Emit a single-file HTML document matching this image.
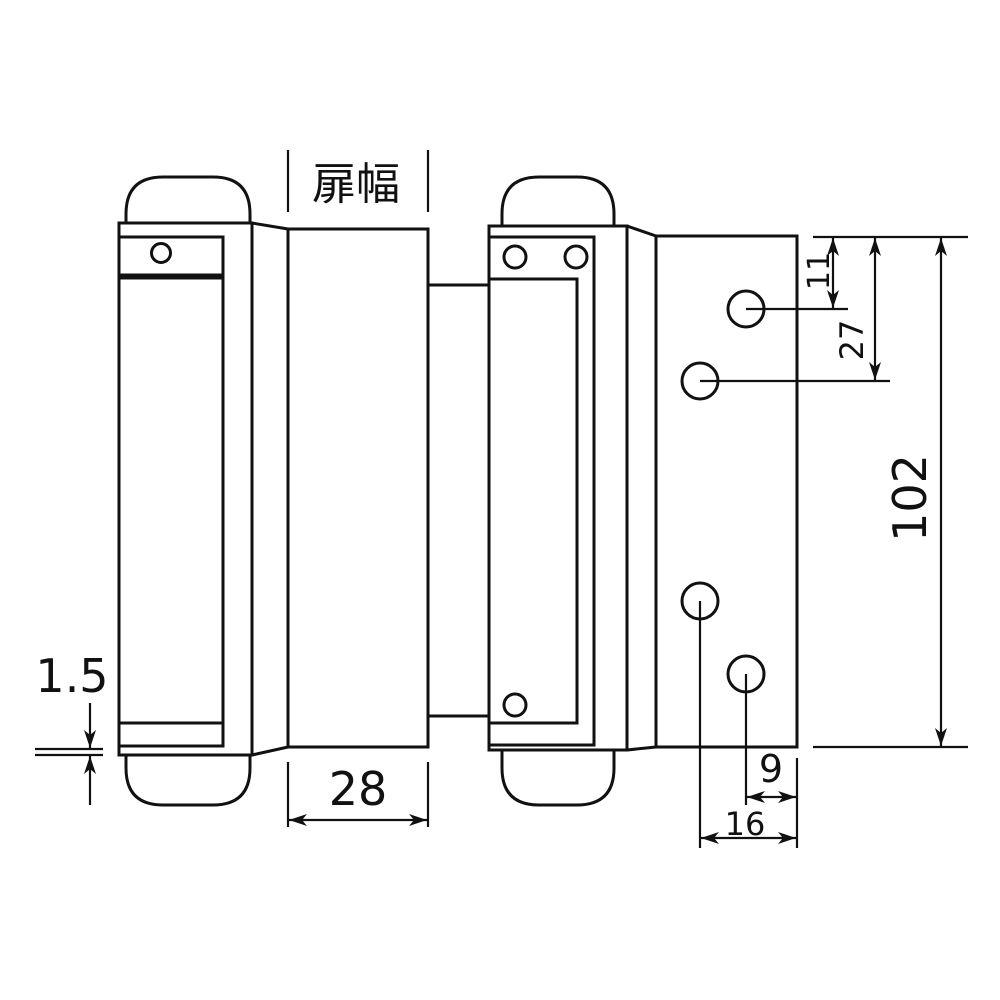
<!DOCTYPE html>
<html><head><meta charset="utf-8"><style>html,body{margin:0;padding:0;background:#fff}svg{display:block}</style></head>
<body>
<svg width="1000" height="1000" viewBox="0 0 1000 1000" xmlns="http://www.w3.org/2000/svg">
<defs>
<marker id="a" viewBox="0 0 18 12" refX="18" refY="6" markerWidth="18" markerHeight="12" markerUnits="userSpaceOnUse" orient="auto-start-reverse"><path d="M0,0 L18,6 L0,12 L5,6 Z" fill="#111"/></marker>
</defs>
<g fill="none" stroke="#111" stroke-width="3" stroke-linejoin="miter">
<path d="M126,223 V214 Q126,177 163,177 H213 Q250,177 250,214 V223"/>
<path d="M126,755 V768 Q126,805 163,805 H213 Q250,805 250,768 V755"/>
<rect x="119" y="223" width="133" height="532"/>
<path d="M119,237 H223 V746 H119"/>
<line x1="119" y1="275" x2="223" y2="275"/>
<line x1="119" y1="278" x2="223" y2="278"/>
<line x1="119" y1="723" x2="223" y2="723"/>
<circle cx="161" cy="253" r="9.5"/>
<path d="M252,223 L288,229"/>
<path d="M252,755 L288,747"/>
<rect x="288" y="229" width="140" height="518"/>
<path d="M428,285 H489 V226"/>
<path d="M428,716 H489 V750"/>
<path d="M502,226 V214 Q502,177 539,177 H577 Q614,177 614,214 V226"/>
<path d="M502,750 V768 Q502,805 539,805 H577 Q614,805 614,768 V750"/>
<rect x="489" y="226" width="138" height="524"/>
<path d="M490,237 H594 V745 H490"/>
<path d="M490,279 H577 V723 H490"/>
<circle cx="515" cy="257" r="11"/>
<circle cx="576" cy="257" r="11"/>
<circle cx="515" cy="705" r="11"/>
<path d="M627,226 L656,236"/>
<path d="M627,750 L656,747"/>
<rect x="656" y="236" width="141" height="511"/>
<circle cx="746" cy="309" r="18"/>
<circle cx="700" cy="381" r="18"/>
<circle cx="700" cy="601" r="18"/>
<circle cx="746" cy="674" r="18"/>
</g>
<g fill="none" stroke="#111" stroke-width="2.2">
<line x1="288" y1="150" x2="288" y2="212"/>
<line x1="428" y1="150" x2="428" y2="212"/>
<line x1="288" y1="762" x2="288" y2="827"/>
<line x1="428" y1="762" x2="428" y2="827"/>
<line x1="289" y1="820" x2="427" y2="820" marker-start="url(#a)" marker-end="url(#a)"/>
<line x1="35" y1="749" x2="103" y2="749"/>
<line x1="35" y1="755" x2="103" y2="755"/>
<line x1="90" y1="703" x2="90" y2="748" marker-end="url(#a)"/>
<line x1="90" y1="805" x2="90" y2="756" marker-end="url(#a)"/>
<line x1="813" y1="237" x2="968" y2="237"/>
<line x1="813" y1="747" x2="968" y2="747"/>
<line x1="746" y1="309" x2="848" y2="309"/>
<line x1="700" y1="381" x2="890" y2="381"/>
<line x1="833" y1="238" x2="833" y2="308" marker-start="url(#a)" marker-end="url(#a)"/>
<line x1="875" y1="238" x2="875" y2="380" marker-start="url(#a)" marker-end="url(#a)"/>
<line x1="941" y1="238" x2="941" y2="746" marker-start="url(#a)" marker-end="url(#a)"/>
<line x1="746" y1="674" x2="746" y2="805"/>
<line x1="700" y1="601" x2="700" y2="848"/>
<line x1="797" y1="758" x2="797" y2="848"/>
<line x1="747" y1="797" x2="796" y2="797" marker-start="url(#a)" marker-end="url(#a)"/>
<line x1="701" y1="838" x2="796" y2="838" marker-start="url(#a)" marker-end="url(#a)"/>
</g>
<g fill="#111" font-family="'DejaVu Sans','Liberation Sans','Noto Sans CJK JP',sans-serif">
<text x="356" y="199" font-size="44" text-anchor="middle" font-family="'Noto Sans CJK JP',sans-serif">扉幅</text>
<text x="358" y="805" font-size="46" text-anchor="middle">28</text>
<text x="72" y="692" font-size="46" text-anchor="middle">1.5</text>
<text x="771" y="782" font-size="38" text-anchor="middle">9</text>
<text x="745" y="835" font-size="32" text-anchor="middle">16</text>
<text transform="translate(829,271) rotate(-90)" font-size="30" text-anchor="middle">11</text>
<text transform="translate(863,340) rotate(-90)" font-size="32" text-anchor="middle">27</text>
<text transform="translate(926,498) rotate(-90)" font-size="46" text-anchor="middle">102</text>
</g>
</svg>
</body></html>
